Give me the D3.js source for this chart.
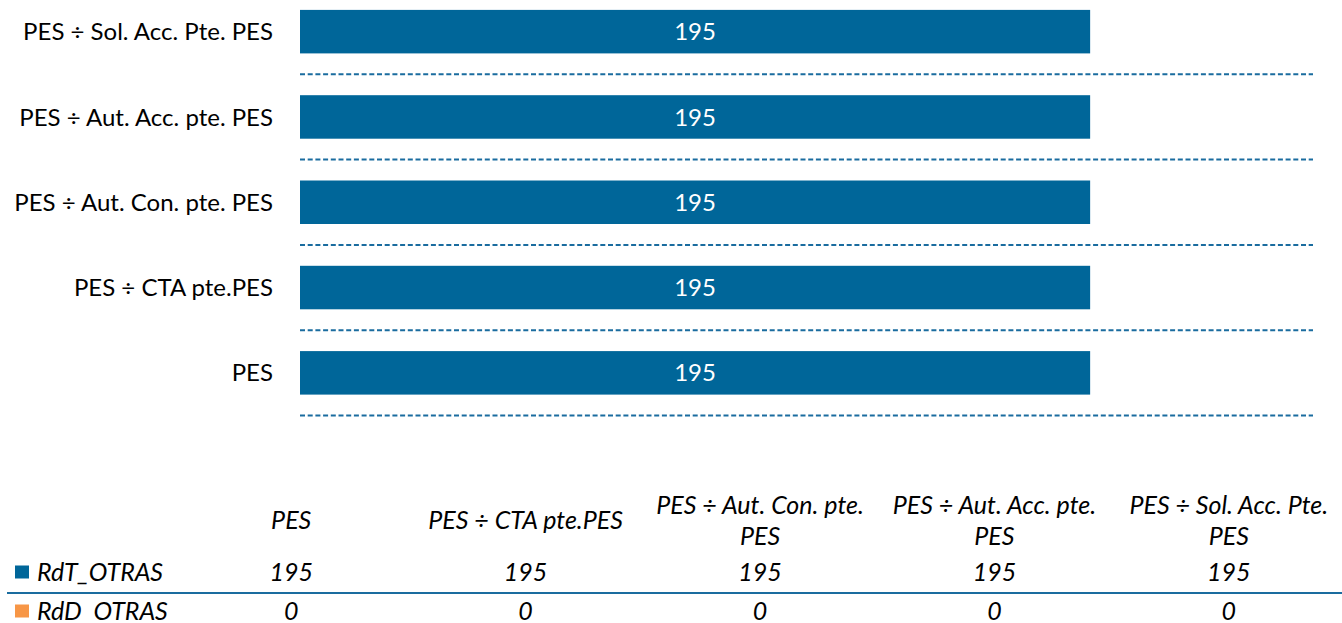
<!DOCTYPE html>
<html><head><meta charset="utf-8">
<script src="https://cdn.jsdelivr.net/npm/d3@7"></script>
<style>
html,body{margin:0;padding:0;background:#fff;}
svg{display:block;font-family:"Lato","Open Sans",sans-serif;}
</style></head>
<body>
<svg id="c" width="1342" height="623"></svg>
<script>
const categories = ["PES", "PES ÷ CTA pte.PES", "PES ÷ Aut. Con. pte. PES", "PES ÷ Aut. Acc. pte. PES", "PES ÷ Sol. Acc. Pte. PES"];
const tableHeaders = [["PES"], ["PES ÷ CTA pte.PES"], ["PES ÷ Aut. Con. pte.", "PES"], ["PES ÷ Aut. Acc. pte.", "PES"], ["PES ÷ Sol. Acc. Pte.", "PES"]];
const seriesNames = ["RdT_OTRAS", "RdD  OTRAS"];
const rdtValues = [195, 195, 195, 195, 195];
const rddValues = [0, 0, 0, 0, 0];
const seriesColors = ["#006699", "#F79646"];
const xMax = 250;

const svg = d3.select("#c");
const plot = {left: 300, right: 1313, top: -11, bottom: 415.5};

const x = d3.scaleLinear().domain([0, xMax]).range([plot.left, plot.right]);
const y = d3.scaleBand().domain(categories.slice().reverse()).range([plot.top, plot.bottom]).paddingInner(0.49).paddingOuter(0.245);

// gridlines at band boundaries
const bounds = d3.range(categories.length + 1).map(i => plot.top + i * y.step());
svg.append("g").selectAll("line").data(bounds.filter(b => b > 0)).join("line")
  .attr("x1", plot.left).attr("x2", plot.right)
  .attr("y1", d => d).attr("y2", d => d)
  .attr("stroke", "#1a6c9f").attr("stroke-width", 2).attr("stroke-dasharray", "5,2.7");

// bars (stacked: RdT then RdD)
const data = categories.map((c, i) => ({c, a: rdtValues[i], b: rddValues[i]}));
svg.append("g").selectAll("rect.a").data(data).join("rect")
  .attr("x", x(0)).attr("y", d => y(d.c))
  .attr("width", d => x(d.a) - x(0)).attr("height", y.bandwidth())
  .attr("fill", seriesColors[0]);
svg.append("g").selectAll("rect.b").data(data).join("rect")
  .attr("x", d => x(d.a)).attr("y", d => y(d.c))
  .attr("width", d => x(d.a + d.b) - x(d.a)).attr("height", y.bandwidth())
  .attr("fill", seriesColors[1]);

// value labels
svg.append("g").selectAll("text").data(data).join("text")
  .attr("x", d => (x(0) + x(d.a)) / 2).attr("y", d => y(d.c) + y.bandwidth() / 2)
  .attr("dy", "0.36em").attr("text-anchor", "middle")
  .attr("fill", "#fff").attr("font-size", 24).text(d => d.a);

// category axis labels
const yAxis = d3.axisLeft(y).tickSize(0).tickPadding(27);
const gy = svg.append("g").attr("transform", `translate(${plot.left},0)`).call(yAxis);
gy.select(".domain").remove();
gy.selectAll("text").attr("font-size", 24).attr("fill", "#000").attr("dy", "0.36em").attr("font-family", "Lato,'Open Sans',sans-serif");

// data table
const col = d3.scaleBand().domain(categories).range([174, 1346]);
const tbl = svg.append("g").attr("font-style", "italic").attr("font-size", 25).attr("fill", "#000");
tableHeaders.forEach((lines, i) => {
  const cx = col(categories[i]) + col.bandwidth() / 2;
  const t = tbl.append("text").attr("text-anchor", "middle").attr("x", cx);
  if (lines.length === 1) {
    t.append("tspan").attr("x", cx).attr("y", 528.5).text(lines[0]);
  } else {
    t.append("tspan").attr("x", cx).attr("y", 513.5).text(lines[0]);
    t.append("tspan").attr("x", cx).attr("y", 544.5).text(lines[1]);
  }
});
const rows = [{name: seriesNames[0], vals: rdtValues, color: seriesColors[0], y: 580.5},
              {name: seriesNames[1], vals: rddValues, color: seriesColors[1], y: 619.5}];
rows.forEach(r => {
  tbl.append("rect").attr("x", 15).attr("y", r.y - 15).attr("width", 14).attr("height", 13).attr("fill", r.color);
  tbl.append("text").attr("x", 37).attr("y", r.y).attr("xml:space", "preserve").style("white-space", "pre").text(r.name);
  r.vals.forEach((v, i) => {
    tbl.append("text").attr("text-anchor", "middle").attr("x", col(categories[i]) + col.bandwidth() / 2).attr("y", r.y).text(v);
  });
});
svg.append("line").attr("x1", 7).attr("x2", 1342).attr("y1", 593).attr("y2", 593)
  .attr("stroke", "#1a6c9f").attr("stroke-width", 2);
</script>
</body></html>
